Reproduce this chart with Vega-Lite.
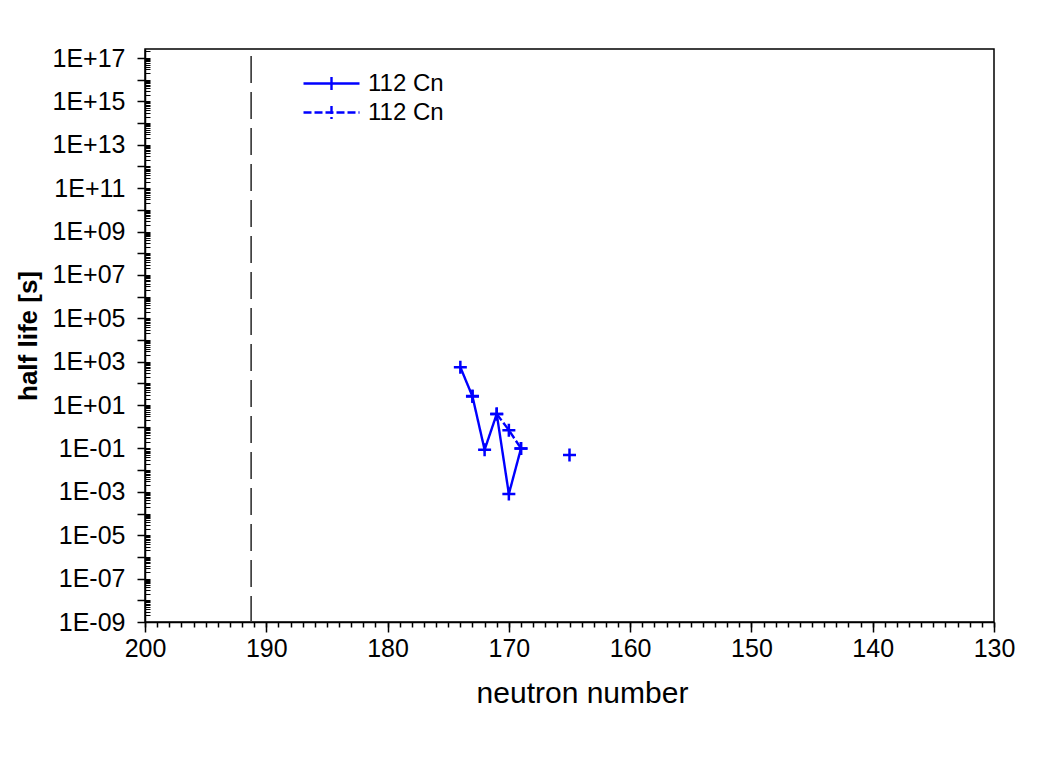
{
  "$schema": "https://vega.github.io/schema/vega-lite/v6.json",
  "width": 849,
  "height": 573,
  "autosize": {"type": "none"},
  "padding": {"left": 145, "top": 49, "right": 69, "bottom": 160},
  "background": "white",
  "config": {
    "view": {"stroke": "black", "strokeWidth": 1.5},
    "axis": {
      "domainColor": "black", "tickColor": "black", "labelColor": "black", "titleColor": "black",
      "labelFont": "Liberation Sans", "titleFont": "Liberation Sans",
      "grid": false, "domainWidth": 1.5, "tickWidth": 1.5
    }
  },
  "datasets": {
    "halflife": [
      {"series": "A", "seg": "A1", "n": 174, "t": 560},
      {"series": "A", "seg": "A1", "n": 173, "t": 25},
      {"series": "A", "seg": "A1", "n": 172, "t": 0.087},
      {"series": "A", "seg": "A1", "n": 171, "t": 3.9},
      {"series": "A", "seg": "A1", "n": 170, "t": 0.0008},
      {"series": "A", "seg": "A1", "n": 169, "t": 0.1},
      {"series": "B", "seg": "B0", "n": 173, "t": 26},
      {"series": "B", "seg": "B1", "n": 171, "t": 3.9},
      {"series": "B", "seg": "B1", "n": 170, "t": 0.7},
      {"series": "B", "seg": "B1", "n": 169, "t": 0.1},
      {"series": "B", "seg": "B2", "n": 165, "t": 0.05}
    ],
    "marker": [{"n": 191.25}]
  },
  "resolve": {"axis": {"x": "independent", "y": "independent"}},
  "layer": [
    {
      "data": {"name": "halflife"},
      "mark": {"type": "line", "color": "#0000ff", "strokeWidth": 2.4},
      "encoding": {
        "x": {
          "field": "n", "type": "quantitative",
          "scale": {"domain": [130, 200], "reverse": true, "nice": false, "zero": false},
          "axis": {
            "orient": "bottom", "values": [130, 140, 150, 160, 170, 180, 190, 200],
            "tickSize": 10, "labelFontSize": 25, "labelPadding": 4,
            "title": "neutron number", "titleFontSize": 30, "titleFontWeight": "normal",
            "titlePadding": 17, "titleX": 437, "titleAnchor": "middle",
            "labelFlush": false, "labelOverlap": false
          }
        },
        "y": {
          "field": "t", "type": "quantitative",
          "scale": {"type": "log", "domain": [1e-9, 2.6e17], "nice": false},
          "axis": {
            "orient": "left",
            "values": [1e-9, 1e-8, 1e-7, 1e-6, 1e-5, 1e-4, 1e-3, 1e-2, 1e-1, 1, 10, 100, 1e3, 1e4, 1e5, 1e6, 1e7, 1e8, 1e9, 1e10, 1e11, 1e12, 1e13, 1e14, 1e15, 1e16, 1e17],
            "labelExpr": "abs(round(log(datum.value)/LN10)) % 2 == 1 ? '1E' + (round(log(datum.value)/LN10) < 0 ? '-' : '+') + (abs(round(log(datum.value)/LN10)) < 10 ? '0' : '') + abs(round(log(datum.value)/LN10)) : ''",
            "tickSize": 8, "labelFontSize": 25, "labelPadding": 12,
            "labelOverlap": false, "labelFlush": false,
            "title": "half life [s]", "titleFontSize": 26, "titleFontWeight": "bold",
            "titlePadding": 11
          }
        },
        "strokeDash": {
          "field": "series", "type": "nominal",
          "scale": {"domain": ["A", "B"], "range": [[1, 0], [8, 3]]},
          "legend": {
            "orient": "none", "legendX": 171, "legendY": 19, "title": null,
            "labelExpr": "'112 Cn'", "labelFont": "Liberation Sans", "labelFontSize": 24,
            "labelColor": "black", "symbolType": "M-2,0H2M0,-0.46V0.46",
            "symbolSize": 784, "symbolStrokeColor": "#0000ff", "symbolStrokeWidth": 2.4,
            "symbolFillColor": "transparent", "labelOffset": 21, "rowPadding": 1
          }
        },
        "detail": {"field": "seg", "type": "nominal"}
      }
    },
    {
      "data": {"name": "halflife"},
      "mark": {"type": "point", "shape": "M-1,0H1M0,-1V1", "size": 169, "filled": false, "stroke": "#0000ff", "strokeWidth": 2.5, "opacity": 1},
      "encoding": {
        "x": {
          "field": "n", "type": "quantitative",
          "axis": {"orient": "bottom", "tickCount": 70, "labels": false, "tickSize": 5, "domain": false, "title": null}
        },
        "y": {
          "field": "t", "type": "quantitative",
          "axis": {"orient": "left", "tickCount": 30, "labels": false, "tickSize": -5, "tickWidth": 1, "domain": false, "title": null}
        }
      }
    },
    {
      "data": {"name": "marker"},
      "mark": {"type": "rule", "color": "#333333", "strokeWidth": 1.6, "strokeDash": [27, 9], "strokeDashOffset": 29},
      "encoding": {
        "x": {"field": "n", "type": "quantitative", "axis": null}
      }
    }
  ]
}
